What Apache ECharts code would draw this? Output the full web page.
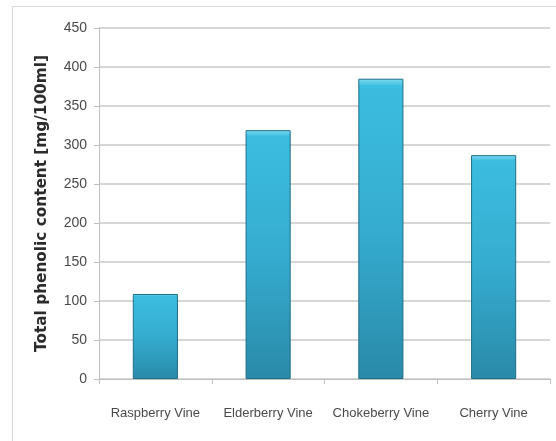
<!DOCTYPE html>
<html>
<head>
<meta charset="utf-8">
<script src="https://cdn.jsdelivr.net/npm/echarts@6/dist/echarts.min.js"></script>
<style>
  html, body { margin: 0; padding: 0; background: #fff; }
  #frame { position: absolute; left: 12px; top: 6px; width: 560px; height: 450px; border: 1px solid #d9d9d9; box-sizing: border-box; }
  #chart { position: absolute; left: 0; top: 0; width: 556px; height: 441px; }
</style>
</head>
<body>
<div id="frame"></div>
<div id="chart"></div>
<script>
// Wines and their total phenolic content
const categories = ['Raspberry Vine', 'Elderberry Vine', 'Chokeberry Vine', 'Cherry Vine'];
const phenolic = [109, 319, 385, 287];
const yTicks = [0, 50, 100, 150, 200, 250, 300, 350, 400, 450];

const chart = echarts.init(document.getElementById('chart'), null, { renderer: 'canvas' });
const labelFont = '"Liberation Sans Narrow", "Liberation Sans", sans-serif';

chart.setOption({
  animation: false,
  backgroundColor: 'transparent',
  grid: { left: 99, right: 6, top: 28, bottom: 62 },
  xAxis: {
    type: 'category',
    data: categories,
    axisLine: { show: true, lineStyle: { color: '#bfbfbf', width: 1 } },
    axisTick: { show: true, alignWithLabel: false, length: 5, lineStyle: { color: '#bfbfbf' } },
    axisLabel: { interval: 0, color: '#4a4a4a', fontFamily: labelFont, fontSize: 13, margin: 28 }
  },
  yAxis: {
    type: 'value',
    min: yTicks[0],
    max: yTicks[yTicks.length - 1],
    interval: 50,
    name: 'Total phenolic content [mg/100ml]',
    nameLocation: 'middle',
    nameGap: 49,
    nameTextStyle: { color: '#2b2b2b', fontFamily: '"DejaVu Sans", sans-serif', fontWeight: 'bold', fontSize: 15.3 },
    axisLine: { show: true, lineStyle: { color: '#bfbfbf', width: 1 } },
    axisTick: { show: true, length: 5, lineStyle: { color: '#bfbfbf' } },
    axisLabel: { color: '#4a4a4a', fontFamily: labelFont, fontSize: 14, margin: 12 },
    splitLine: { show: true, lineStyle: { color: '#c9c9c9', width: 1.5 } }
  },
  series: [{
    type: 'bar',
    data: phenolic,
    barWidth: '40%',
    itemStyle: {
      borderColor: '#1f6f88',
      borderWidth: 1,
      color: new echarts.graphic.LinearGradient(0, 0, 0, 1, [
        { offset: 0, color: '#7fdcf2' },
        { offset: 0.025, color: '#3bbde0' },
        { offset: 0.5, color: '#35acd0' },
        { offset: 1, color: '#2a8aa8' }
      ])
    }
  }]
});
</script>
</body>
</html>
